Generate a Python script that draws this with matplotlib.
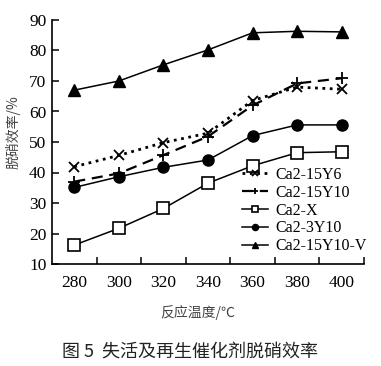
import numpy as np
import matplotlib
matplotlib.use('Agg')
import matplotlib.pyplot as plt

temps = ['280', '300', '320', '340', '360', '380', '400']
y6 = [41.9, 45.6, 49.8, 52.9, 63.6, 68.0, 67.3]
y10 = [37.0, 39.7, 45.7, 51.8, 62.0, 69.2, 70.9]
cax = [16.2, 21.7, 28.2, 36.5, 42.2, 46.5, 46.8]
y3 = [35.1, 38.6, 41.7, 44.1, 52.1, 55.6, 55.6]
yv = [67.0, 70.0, 75.3, 80.2, 85.8, 86.3, 86.1]

names = ['Ca2-15Y6', 'Ca2-15Y10', 'Ca2-X', 'Ca2-3Y10', 'Ca2-15Y10-V']

serif = 'Liberation Serif'
cjk = ['Noto Sans CJK SC', 'DejaVu Sans']

fig = plt.figure(figsize=(3.81, 3.66), dpi=100)
ax = fig.add_axes([52/381, 1-264/366, 312/381, 244/366])
x = np.arange(len(temps))

ax.plot(x, y6, color='k', ls=':', lw=2.0, marker='x', ms=7, mew=1.3, label=names[0])
ax.plot(x, y10, color='k', ls=(0, (5, 3)), lw=1.6, marker='+', ms=9, mew=1.3, label=names[1])
ax.plot(x, cax, color='k', ls='-', lw=1.1, marker='s', ms=8, mfc='white', mew=1.2, label=names[2])
ax.plot(x, y3, color='k', ls='-', lw=1.1, marker='o', ms=8, label=names[3])
ax.plot(x, yv, color='k', ls='-', lw=1.1, marker='^', ms=8, label=names[4])

ax.set_xlim(-0.5, 6.5)
ax.set_ylim(10, 90)
ax.set_xticks(x)
ax.set_xticklabels(temps, fontfamily=serif, fontsize=12.5)
ax.set_xticks(x + 0.5, minor=True)
ax.tick_params(axis='x', which='major', length=0, pad=8)
ax.tick_params(axis='x', which='minor', length=5, direction='in', width=1.1)
ax.set_yticks(np.arange(10, 91, 10))
ax.set_yticklabels([str(v) for v in range(10, 91, 10)], fontfamily=serif, fontsize=12.5)
ax.tick_params(axis='y', length=5, direction='in', width=1.1, pad=4)
for s in ['top', 'right']:
    ax.spines[s].set_visible(False)
for s in ['left', 'bottom']:
    ax.spines[s].set_linewidth(1.2)

ax.set_xlabel('反应温度/℃', family=cjk, fontsize=10, color='#444')
ax.xaxis.set_label_coords(0.467, -0.17)
ax.set_ylabel('脱硝效率/%', family=cjk, fontsize=10, color='#444')
ax.yaxis.set_label_coords(-0.10, 0.54)

leg = ax.legend(loc='lower right', bbox_to_anchor=(1.04, 0.0), frameon=False,
                prop={'family': serif, 'size': 11.5}, markerscale=0.55,
                handlelength=1.6, handletextpad=0.5, labelspacing=0.12,
                borderaxespad=0.2)

fig.text(0.5, 1-352/366, '图 5  失活及再生催化剂脱硝效率', ha='center', va='center',
         family=cjk, fontsize=13, fontweight='medium', color='#222')

fig.savefig('out.png', dpi=100)
